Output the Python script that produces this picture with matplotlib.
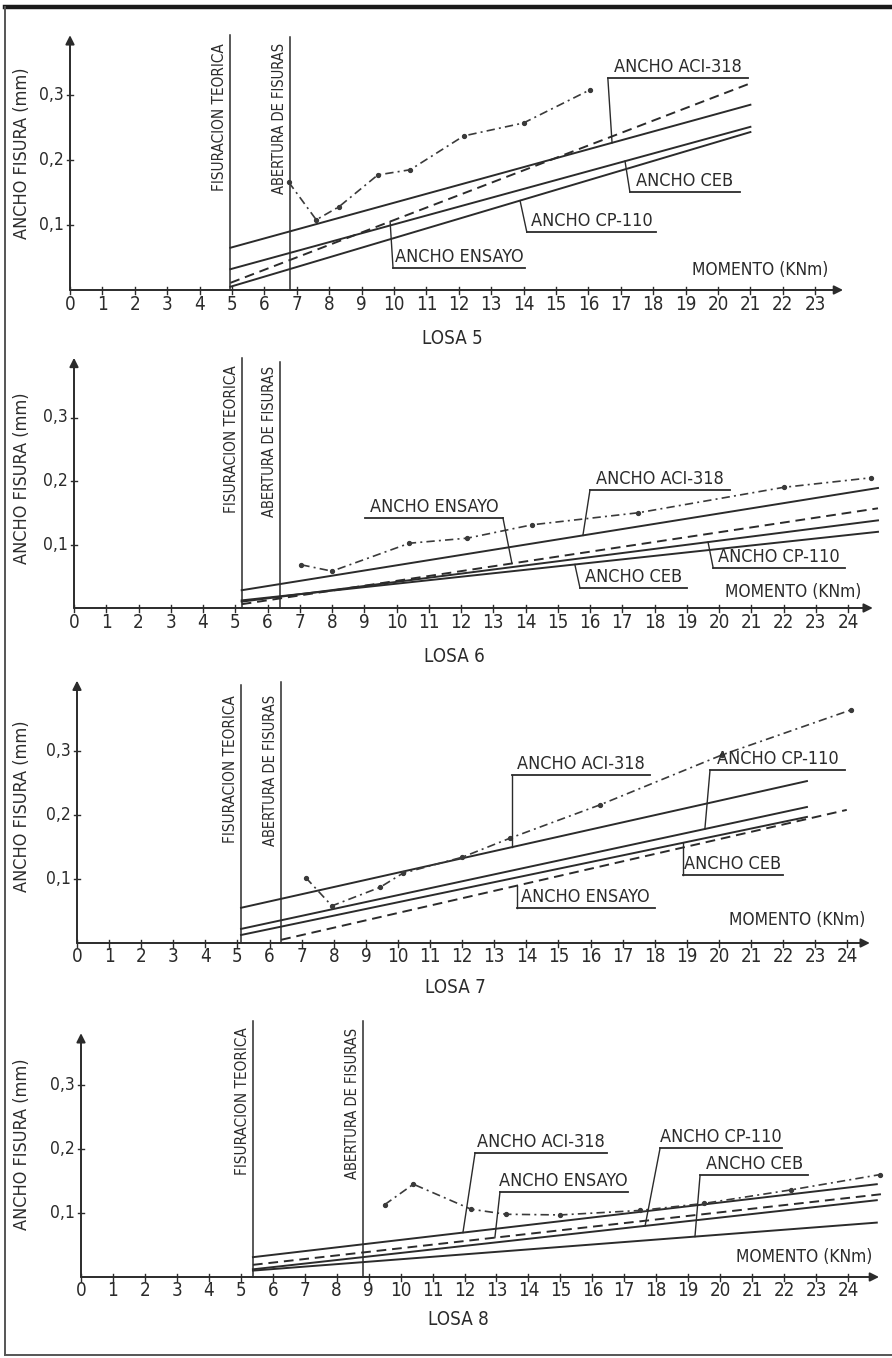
import numpy as np
import matplotlib
matplotlib.use("Agg")
import matplotlib.pyplot as plt
from matplotlib.lines import Line2D

plt.rcParams['font.family'] = ['DejaVu Sans']
plt.rcParams['font.stretch'] = 'condensed'

W, H = 892, 1358
INK = '#2b2b2b'

# ---------------- LOSA 5 ----------------
losa5_fisuracion = 4.95
losa5_abertura = 6.8
losa5_x = [4.95, 21.0]
losa5_aci = [0.065, 0.285]
losa5_ceb = [0.032, 0.251]
losa5_cp110 = [0.005, 0.243]
losa5_ensayo = [0.011, 0.318]
losa5_med_x = [6.75, 7.6, 8.3, 9.5, 10.5, 12.15, 14.0, 16.05]
losa5_med_y = [0.166, 0.108, 0.128, 0.177, 0.185, 0.237, 0.257, 0.308]

# ---------------- LOSA 6 ----------------
losa6_fisuracion = 5.2
losa6_abertura = 6.39
losa6_x = [5.2, 24.93]
losa6_aci = [0.028, 0.189]
losa6_ensayo = [0.006, 0.157]
losa6_cp110 = [0.010, 0.138]
losa6_ceb = [0.012, 0.120]
losa6_med_x = [7.05, 8.0, 10.4, 12.2, 14.2, 17.5, 22.0, 24.7]
losa6_med_y = [0.068, 0.058, 0.102, 0.110, 0.131, 0.150, 0.190, 0.205]

# ---------------- LOSA 7 ----------------
losa7_fisuracion = 5.11
losa7_abertura = 6.36
losa7_x = [5.11, 22.74]
losa7_aci = [0.055, 0.253]
losa7_cp110 = [0.022, 0.2125]
losa7_ceb = [0.0125, 0.197]
losa7_ensayo_x = [6.36, 23.98]
losa7_ensayo = [0.005, 0.208]
losa7_med_x = [7.13, 7.94, 9.44, 10.15, 12.0, 13.5, 16.3, 20.1, 24.1]
losa7_med_y = [0.102, 0.058, 0.087, 0.109, 0.134, 0.164, 0.216, 0.294, 0.364]

# ---------------- LOSA 8 ----------------
losa8_fisuracion = 5.38
losa8_abertura = 8.82
losa8_x = [5.38, 24.9]
losa8_aci = [0.031, 0.145]
losa8_ensayo_x = [5.38, 25.15]
losa8_ensayo = [0.019, 0.130]
losa8_cp110 = [0.012, 0.120]
losa8_ceb = [0.010, 0.085]
losa8_med_x = [9.5, 10.4, 12.2, 13.3, 15.0, 17.5, 19.5, 22.2, 25.0]
losa8_med_y = [0.113, 0.145, 0.106, 0.098, 0.097, 0.104, 0.115, 0.136, 0.160]

y_ticks = [0.1, 0.2, 0.3]
y_tick_labels = ['0,1', '0,2', '0,3']

panels = [
    dict(name='LOSA 5', top=12, bot=352, x0=70, ux=32.4, y0=290, uy=650,
         nt=23, xtip=23.86, ytip=0.392, fis=losa5_fisuracion, ab=losa5_abertura,
         vtop=(0.392, 0.389), vtext=0.38, ylab_y=0.21, title_y=-0.074,
         mom=(23.4, 0.031),
         lines={'aci': (losa5_x, losa5_aci), 'ceb': (losa5_x, losa5_ceb),
                'cp110': (losa5_x, losa5_cp110), 'ensayo': (losa5_x, losa5_ensayo)},
         med=(losa5_med_x, losa5_med_y),
         labels=[('ANCHO ACI-318', 'aci', 16.73, 16.6, 16.6, 20.93, 0.326),
                 ('ANCHO CEB', 'ceb', 17.13, 17.28, 17.28, 20.68, 0.151),
                 ('ANCHO CP-110', 'cp110', 13.89, 14.1, 14.1, 18.1, 0.089),
                 ('ANCHO ENSAYO', 'ensayo', 9.88, 9.97, 9.97, 14.04, 0.034)]),
    dict(name='LOSA 6', top=352, bot=672, x0=74, ux=32.25, y0=608, uy=635,
         nt=24, xtip=24.77, ytip=0.394, fis=losa6_fisuracion, ab=losa6_abertura,
         vtop=(0.394, 0.387), vtext=0.382, ylab_y=0.205, title_y=-0.077,
         mom=(24.43, 0.025),
         lines={'aci': (losa6_x, losa6_aci), 'ceb': (losa6_x, losa6_ceb),
                'cp110': (losa6_x, losa6_cp110), 'ensayo': (losa6_x, losa6_ensayo)},
         med=(losa6_med_x, losa6_med_y),
         labels=[('ANCHO ENSAYO', 'ensayo', 13.58, 13.3, 9.02, 13.3, 0.142),
                 ('ANCHO ACI-318', 'aci', 15.78, 16.0, 16.0, 20.34, 0.186),
                 ('ANCHO CEB', 'ceb', 15.53, 15.69, 15.69, 19.0, 0.0315),
                 ('ANCHO CP-110', 'cp110', 19.66, 19.82, 19.82, 23.9, 0.063)]),
    dict(name='LOSA 7', top=672, bot=1002, x0=77, ux=32.1, y0=943, uy=640,
         nt=24, xtip=24.7, ytip=0.41, fis=losa7_fisuracion, ab=losa7_abertura,
         vtop=(0.403, 0.408), vtext=0.387, ylab_y=0.213, title_y=-0.070,
         mom=(24.55, 0.036),
         lines={'aci': (losa7_x, losa7_aci), 'ceb': (losa7_x, losa7_ceb),
                'cp110': (losa7_x, losa7_cp110), 'ensayo': (losa7_ensayo_x, losa7_ensayo)},
         med=(losa7_med_x, losa7_med_y),
         labels=[('ANCHO ACI-318', 'aci', 13.55, 13.55, 13.55, 17.85, 0.2625),
                 ('ANCHO CP-110', 'cp110', 19.56, 19.72, 19.72, 23.93, 0.27),
                 ('ANCHO CEB', 'ceb', 18.88, 18.88, 18.88, 21.99, 0.106),
                 ('ANCHO ENSAYO', 'ensayo', 13.7, 13.7, 13.7, 18.0, 0.055)]),
    dict(name='LOSA 8', top=1002, bot=1345, x0=81, ux=31.96, y0=1277, uy=640,
         nt=24, xtip=24.97, ytip=0.381, fis=losa8_fisuracion, ab=losa8_abertura,
         vtop=(0.40, 0.40), vtext=0.39, ylab_y=0.207, title_y=-0.067,
         mom=(24.75, 0.031),
         lines={'aci': (losa8_x, losa8_aci), 'ceb': (losa8_x, losa8_ceb),
                'cp110': (losa8_x, losa8_cp110), 'ensayo': (losa8_ensayo_x, losa8_ensayo)},
         med=(losa8_med_x, losa8_med_y),
         labels=[('ANCHO ACI-318', 'aci', 11.95, 12.33, 12.33, 16.46, 0.194),
                 ('ANCHO ENSAYO', 'ensayo', 12.95, 13.11, 13.11, 17.1, 0.133),
                 ('ANCHO CP-110', 'cp110', 17.65, 18.12, 18.12, 21.93, 0.2016),
                 ('ANCHO CEB', 'ceb', 19.21, 19.37, 19.37, 22.75, 0.159)]),
]

fig = plt.figure(figsize=(W / 100, H / 100), dpi=100)
fig.patch.set_facecolor('white')

# scanned page frame
fig.add_artist(Line2D([5 / W, 1], [1 - 7 / H, 1 - 7 / H], color='#1a1a1a', lw=3.2))
fig.add_artist(Line2D([5 / W, 5 / W], [1 - 7 / H, 1 - 1355 / H], color='#555555', lw=1.4))
fig.add_artist(Line2D([5 / W, 1], [1 - 1355 / H, 1 - 1355 / H], color='#555555', lw=1.4))

for p in panels:
    ux, uy = p['ux'], p['uy']
    ax = fig.add_axes([0, 1 - p['bot'] / H, 1, (p['bot'] - p['top']) / H])
    ax.set_xlim(-p['x0'] / ux, (W - p['x0']) / ux)
    ax.set_ylim((p['y0'] - p['bot']) / uy, (p['y0'] - p['top']) / uy)
    ax.axis('off')
    ax.patch.set_alpha(0)

    arrow = dict(arrowstyle='-|>', color=INK, lw=1.4, mutation_scale=13,
                 shrinkA=0, shrinkB=0)
    ax.annotate('', xy=(p['xtip'], 0), xytext=(0, 0), arrowprops=arrow)
    ax.annotate('', xy=(0, p['ytip']), xytext=(0, 0), arrowprops=arrow)

    # x ticks and labels
    for k in range(p['nt'] + 1):
        ax.plot([k, k], [-3.5 / uy, 3.5 / uy], color=INK, lw=1.0)
        ax.text(k, -14 / uy, str(k), ha='center', va='center', fontsize=13.5,
                color=INK)
    # y ticks and labels
    for v, s in zip(y_ticks, y_tick_labels):
        ax.plot([-3 / ux, 3 / ux], [v, v], color=INK, lw=1.0)
        ax.text(-6 / ux, v, s, ha='right', va='center', fontsize=12.5, color=INK)

    ax.text(-(p['x0'] - 22) / ux, p['ylab_y'], 'ANCHO FISURA (mm)', rotation=90,
            ha='center', va='center', fontsize=13, color=INK)
    ax.text(p['mom'][0], p['mom'][1], 'MOMENTO (KNm)', ha='right', va='center',
            fontsize=12.5, color=INK)
    ax.text(11.8, p['title_y'], p['name'], ha='center', va='center', fontsize=13.5,
            color=INK)

    # reference verticals
    ax.plot([p['fis'], p['fis']], [0, p['vtop'][0]], color=INK, lw=1.1)
    ax.plot([p['ab'], p['ab']], [0, p['vtop'][1]], color=INK, lw=1.1)
    ax.text(p['fis'] - 3 / ux, p['vtext'], 'FISURACION TEORICA', rotation=90,
            ha='right', va='top', fontsize=11, color=INK)
    ax.text(p['ab'] - 3 / ux, p['vtext'], 'ABERTURA DE FISURAS', rotation=90,
            ha='right', va='top', fontsize=10.5, color=INK)

    # theoretical widths and test fit
    for key, (xs, ys) in p['lines'].items():
        if key == 'ensayo':
            ax.plot(xs, ys, color=INK, lw=1.4, dashes=(5, 3))
        else:
            ax.plot(xs, ys, color=INK, lw=1.4)
    mx, my = p['med']
    ax.plot(mx, my, color='#3a3a3a', lw=1.2, dashes=(5, 2.5, 1.2, 2.5),
            marker='o', markersize=2.8)

    # labels with leaders
    for text, key, tx, lx, x1, x2, yu in p['labels']:
        xs, ys = p['lines'][key]
        ty = np.interp(tx, xs, ys)
        ax.plot([tx, lx], [ty, yu], color=INK, lw=1.0)
        ax.plot([x1, x2], [yu, yu], color=INK, lw=1.3)
        ax.annotate(text, xy=((x1 + x2) / 2, yu), xytext=(0, 1.5),
                    textcoords='offset points', ha='center', va='bottom',
                    fontsize=13, color=INK)

fig.savefig('out.png', dpi=100, facecolor='white')
